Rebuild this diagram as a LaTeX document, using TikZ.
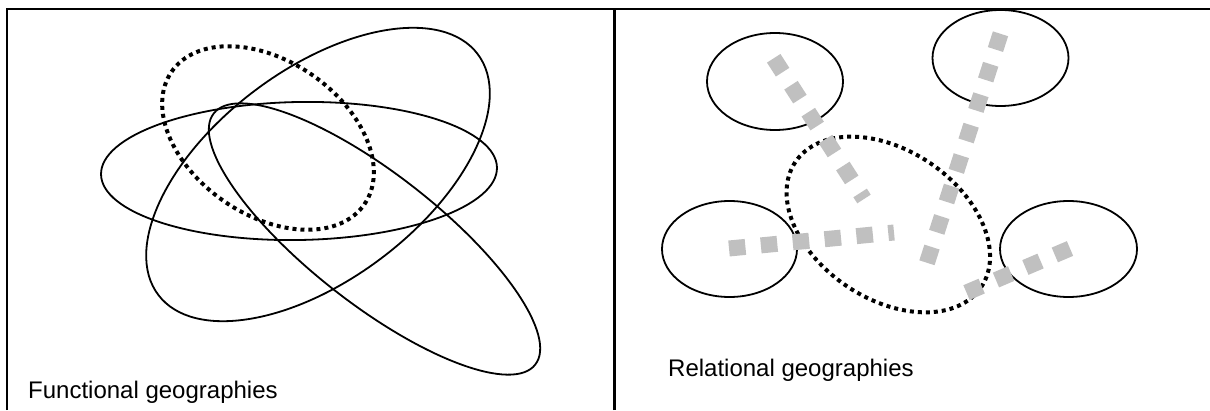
\documentclass[tikz,border=0pt]{standalone}
\usepackage{fontspec}
\setmainfont{Liberation Sans}
\usepackage{xcolor}
\usepackage{tikz}
\usetikzlibrary{calc}
\definecolor{linkgray}{HTML}{C0C0C0}
\definecolor{inkx}{HTML}{000000}
\tikzset{
  frame/.style={line width=2pt,inkx},
  divide/.style={line width=3pt,inkx},
  geo/.style={line width=1.8pt,inkx},
  core/.style={line width=4pt,inkx,dash pattern=on 4pt off 4pt},
  link/.style={line width=16pt,linkgray,dash pattern=on 16.5pt off 15.5pt},
  lbl/.style={font=\fontsize{24}{28}\selectfont,anchor=base west,inner sep=0pt}
}
\begin{document}
\begin{tikzpicture}[x=1pt,y=1pt]
\useasboundingbox (0,0) rectangle (1210,410);
\draw[frame] (7,0)--(7,401)--(1210,401);
\draw[divide] (614.5,0)--(614.5,401);
% functional geographies
\draw[geo,shift={(299,239)},rotate=1] (0,0) ellipse[x radius=198,y radius=69];
\draw[geo,shift={(318,235.5)},rotate=37] (0,0) ellipse[x radius=200,y radius=105];
\draw[geo,shift={(374.5,171)},rotate=-38] (0,0) ellipse[x radius=204,y radius=65];
\draw[core,shift={(268,272)},rotate=-34.5] (0,0) ellipse[x radius=117,y radius=77];
\node[lbl] (functional) at (28,12) {Functional geographies};
% relational geographies
\draw[geo] (775,328.5) ellipse[x radius=68,y radius=48.5];
\draw[geo] (1000.5,352) ellipse[x radius=68,y radius=48];
\draw[geo] (729.5,161) ellipse[x radius=67.5,y radius=48];
\draw[geo] (1068.5,161) ellipse[x radius=68.5,y radius=48];
\draw[core,shift={(888.3,185.5)},rotate=-34] (0,0) ellipse[x radius=112,y radius=74.3];
\coordinate (tl) at (773.7,351.7);
\coordinate (tlend) at (864,211);
\coordinate (bl) at (729,161.5);
\coordinate (blend) at (894,177.5);
\coordinate (tr) at (1000.5,376.2);
\coordinate (trend) at (926.9,147.1);
\coordinate (br) at (1070,161.5);
\coordinate (brend) at (965,116.8);
\draw[link] (tl)--(tlend);
\draw[link] (bl)--(blend);
\draw[link] (tr)--(trend);
\draw[link] (br)--(brend);
\node[lbl] (relational) at (668,33.3) {Relational geographies};
\end{tikzpicture}
\end{document}
